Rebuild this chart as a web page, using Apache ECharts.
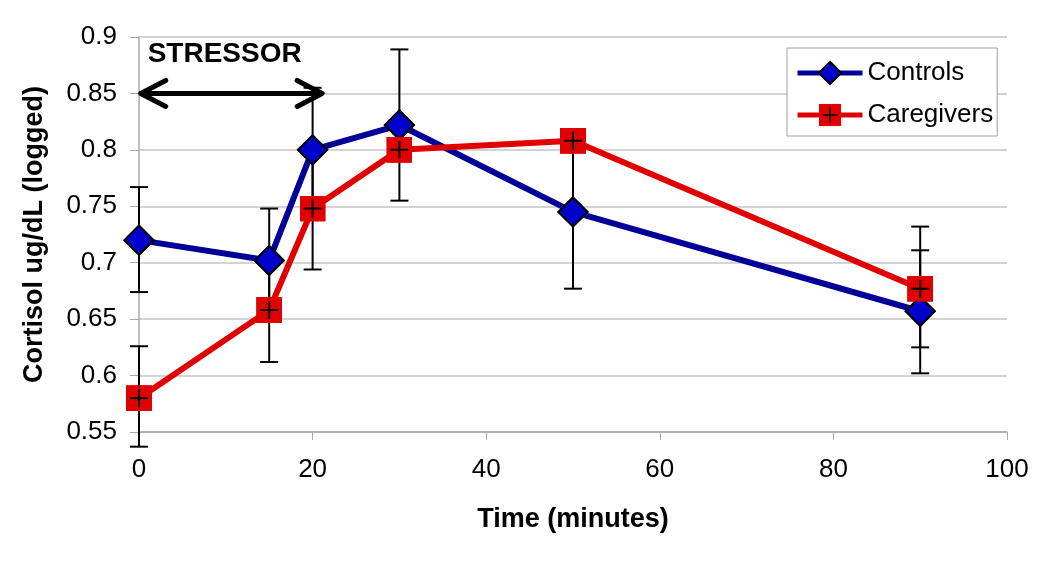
<!DOCTYPE html>
<html>
<head>
<meta charset="utf-8">
<script src="https://cdn.jsdelivr.net/npm/echarts@6/dist/echarts.min.js"></script>
<style>
html,body{margin:0;padding:0;background:#fff;}
#chart{width:1050px;height:561px;}
</style>
</head>
<body>
<div id="chart"></div>
<script>
// ---- data ----
const timePoints = [0, 15, 20, 30, 50, 90];
const controls = [0.720, 0.702, 0.800, 0.822, 0.745, 0.657];
const controlsLow = [0.674, 0.656, 0.745, 0.755, 0.677, 0.602];
const controlsHigh = [0.767, 0.748, 0.855, 0.889, 0.813, 0.711];
const caregivers = [0.580, 0.658, 0.748, 0.800, 0.808, 0.677];
const caregiversLow = [0.537, 0.612, 0.694, 0.792, 0.800, 0.625];
const caregiversHigh = [0.626, 0.704, 0.802, 0.808, 0.816, 0.732];
const seriesNames = ['Controls', 'Caregivers'];
const xAxisRange = [0, 100, 20];
const yAxisRange = [0.55, 0.9, 0.05];
const stressorArrow = [0.2, 21.1, 0.85];   // from x, to x, at y
const stressorLabel = ['STRESSOR', 1.0, 0.8846];
const xTitle = 'Time (minutes)';
const yTitle = 'Cortisol ug/dL (logged)';

const FONT = '"Liberation Sans", Arial, Helvetica, sans-serif';
const BLUE_LINE = '#000099';
const BLUE_FILL = '#0000CC';
const RED = '#E00000';

const plusSquare = 'image://data:image/svg+xml;charset=utf-8,' + encodeURIComponent(
  '<svg xmlns="http://www.w3.org/2000/svg" width="52" height="52" viewBox="0 0 52 52">' +
  '<rect x="0" y="0" width="52" height="52" fill="' + RED + '"/>' +
  '<path d="M26 8V44M8 26H44" stroke="#000" stroke-width="4"/></svg>');

const pairs = (ys) => timePoints.map((x, i) => [x, ys[i]]);
const bars = (lo, hi) => timePoints.map((x, i) => [x, lo[i], hi[i]]);

function renderErrorBar(params, api) {
  const x = api.value(0);
  const top = api.coord([x, api.value(2)]);
  const bot = api.coord([x, api.value(1)]);
  const hw = 9;
  const st = { stroke: '#000', lineWidth: 2 };
  return {
    type: 'group',
    children: [
      { type: 'line', shape: { x1: top[0], y1: top[1], x2: bot[0], y2: bot[1] }, style: st },
      { type: 'line', shape: { x1: top[0] - hw, y1: top[1], x2: top[0] + hw, y2: top[1] }, style: st },
      { type: 'line', shape: { x1: bot[0] - hw, y1: bot[1], x2: bot[0] + hw, y2: bot[1] }, style: st }
    ]
  };
}

function renderArrow(params, api) {
  const a = api.coord([api.value(0), api.value(2)]);
  const b = api.coord([api.value(1), api.value(2)]);
  const st = { stroke: '#000', lineWidth: 5, lineCap: 'round', lineJoin: 'round', fill: null };
  const dx = 25, dy = 13;
  return {
    type: 'group',
    children: [
      { type: 'line', shape: { x1: a[0] + 2, y1: a[1], x2: b[0] - 2, y2: b[1] }, style: st },
      { type: 'polyline', shape: { points: [[a[0] + dx, a[1] - dy], [a[0], a[1]], [a[0] + dx, a[1] + dy]] }, style: st },
      { type: 'polyline', shape: { points: [[b[0] - dx, b[1] - dy], [b[0], b[1]], [b[0] - dx, b[1] + dy]] }, style: st }
    ]
  };
}

function renderLabel(params, api) {
  const p = api.coord([api.value(1), api.value(2)]);
  return {
    type: 'text',
    x: p[0], y: p[1],
    style: {
      text: stressorLabel[0],
      fontFamily: FONT, fontWeight: 'bold', fontSize: 28,
      fill: '#000', align: 'left', verticalAlign: 'middle'
    }
  };
}

const chart = echarts.init(document.getElementById('chart'), null, { renderer: 'canvas' });
chart.setOption({
  animation: false,
  backgroundColor: '#fff',
  textStyle: { fontFamily: FONT },
  grid: { left: 139, right: 43, top: 37, bottom: 129, containLabel: false },
  legend: {
    data: seriesNames,
    orient: 'vertical',
    left: 787, top: 48,
    padding: [12, 4, 8, 8],
    itemWidth: 65, itemHeight: 28, itemGap: 16,
    borderColor: '#a0a0a0', borderWidth: 1,
    backgroundColor: '#fff',
    lineStyle: { width: 5 },
    textStyle: { fontFamily: FONT, fontSize: 26, color: '#000', padding: [0, 0, 0, 0] }
  },
  xAxis: {
    type: 'value',
    min: xAxisRange[0], max: xAxisRange[1], interval: xAxisRange[2],
    name: xTitle, nameLocation: 'middle', nameGap: 74,
    nameTextStyle: { fontFamily: FONT, fontWeight: 'bold', fontSize: 27, color: '#000' },
    axisLine: { show: true, lineStyle: { color: '#a8a8a8', width: 1.5 } },
    axisTick: { show: true, length: 8, lineStyle: { color: '#a8a8a8' } },
    axisLabel: { fontFamily: FONT, fontSize: 26, color: '#000', margin: 25 },
    splitLine: { show: false }
  },
  yAxis: {
    type: 'value',
    min: yAxisRange[0], max: yAxisRange[1], interval: yAxisRange[2],
    name: yTitle, nameLocation: 'middle', nameGap: 91, nameRotate: 90,
    nameTextStyle: { fontFamily: FONT, fontWeight: 'bold', fontSize: 27, color: '#000' },
    axisLine: { show: true, lineStyle: { color: '#a8a8a8', width: 1.5 } },
    axisTick: { show: true, length: 9, lineStyle: { color: '#a8a8a8' } },
    axisLabel: { fontFamily: FONT, fontSize: 26, color: '#000', margin: 22 },
    splitLine: { show: true, lineStyle: { color: '#c4c4c4', width: 1.5 } }
  },
  series: [
    {
      name: 'Controls', type: 'line', z: 2,
      data: pairs(controls),
      lineStyle: { color: BLUE_LINE, width: 6 },
      itemStyle: { color: BLUE_FILL, borderColor: '#000', borderWidth: 2 },
      symbol: 'diamond', symbolSize: 29
    },
    {
      name: 'Caregivers', type: 'line', z: 2,
      data: pairs(caregivers),
      lineStyle: { color: RED, width: 6 },
      itemStyle: { color: RED },
      symbol: plusSquare, symbolSize: 26
    },
    {
      name: 'errControls', type: 'custom', z: 3, clip: false,
      data: bars(controlsLow, controlsHigh),
      encode: { x: 0, y: [1, 2] },
      renderItem: renderErrorBar
    },
    {
      name: 'errCaregivers', type: 'custom', z: 3, clip: false,
      data: bars(caregiversLow, caregiversHigh),
      encode: { x: 0, y: [1, 2] },
      renderItem: renderErrorBar
    },
    {
      name: 'mkControls', type: 'scatter', z: 4,
      data: pairs(controls),
      itemStyle: { color: BLUE_FILL, borderColor: '#000', borderWidth: 2, opacity: 1 },
      symbol: 'diamond', symbolSize: 29
    },
    {
      name: 'mkCaregivers', type: 'scatter', z: 4,
      data: pairs(caregivers),
      itemStyle: { color: RED, opacity: 1 },
      symbol: plusSquare, symbolSize: 26
    },
    {
      name: 'arrow', type: 'custom', z: 5, clip: false,
      data: [stressorArrow],
      encode: { x: [0, 1], y: 2 },
      renderItem: renderArrow
    },
    {
      name: 'label', type: 'custom', z: 5, clip: false,
      data: [stressorLabel],
      encode: { x: 1, y: 2 },
      renderItem: renderLabel
    }
  ]
});
</script>
</body>
</html>
